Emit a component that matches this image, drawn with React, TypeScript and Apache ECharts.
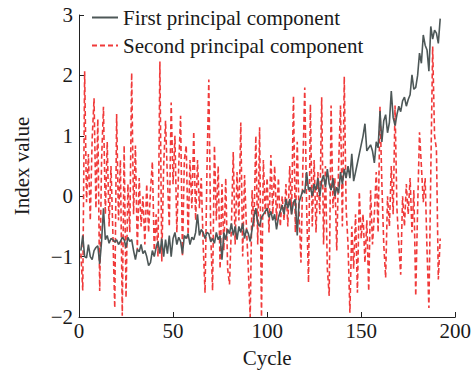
import React, { useEffect, useRef } from "react";
import * as echarts from "echarts";

const firstPC: number[] = [
  -0.9, -0.65, -1.0, -1.02, -0.8, -1.0, -1.05, -0.9, -0.85, -0.82,
  -1.12, -0.75, -0.2, -0.72, -0.65, -0.78, -0.7, -0.72, -0.76, -0.72,
  -0.8, -0.75, -0.68, -0.72, -0.85, -0.68, -0.75, -0.72, -0.9, -1.05,
  -0.88, -0.92, -0.8, -0.95, -0.9, -1.0, -1.15, -1.1, -0.9, -1.0,
  -0.85, -0.75, -0.95, -0.7, -1.0, -0.72, -0.95, -0.65, -1.0, -0.7,
  -0.6, -0.8, -0.68, -0.75, -0.95, -0.65, -0.7, -0.62, -0.8, -0.68,
  -0.72, -0.6, -0.3, -0.65, -0.55, -0.6, -0.7, -0.6, -0.62, -0.75,
  -0.7, -0.78, -0.6, -0.72, -0.65, -1.05, -0.6, -0.72, -0.55, -0.62,
  -0.45, -0.65, -0.5, -0.72, -0.5, -0.6, -0.45, -0.7, -0.55, -0.62,
  -0.75, -0.55, -0.35, -0.2, -0.45, -0.5, -0.35, -0.3, -0.25, -0.2,
  -0.35, -0.25, -0.4, -0.3, -0.55, -0.35, -0.25, -0.15, -0.3, -0.05,
  -0.2, -0.05, -0.3, -0.1, -0.05, -0.65, -0.1, 0.0, 0.1, 0.05,
  0.4, 0.1, 0.15, 0.0, 0.2, 0.1, 0.3, 0.0, 0.25, 0.35,
  0.15, 0.45, 0.2, 0.1, 0.3, 0.0, 0.15, 0.05, 0.4, 0.2,
  0.45, 0.3, 0.5, 0.3, 0.7, 0.25, 0.4, 0.55, 0.7, 0.85,
  1.0, 1.2, 0.75, 0.8, 0.85, 0.75, 0.55, 0.9, 0.8, 1.41,
  0.9, 1.25, 1.35, 1.05, 1.22, 1.74, 1.3, 1.17, 1.35, 1.49,
  1.4, 1.58, 1.64, 1.49, 1.6, 1.68, 2.01, 1.77, 1.8, 2.0,
  2.37, 2.2, 2.67, 2.5, 2.42, 2.07, 2.81, 2.6, 2.75, 2.7,
  2.53, 2.94,
];

const secondPC: number[] = [
  -0.95, -1.56, 2.07, -0.1, 0.7, -0.4, 0.95, 1.62, -0.2, 1.28,
  -1.57, 0.6, 1.48, -0.3, 0.9, -0.5, 0.5, -0.6, -1.85, 1.36,
  -0.4, 0.6, -1.98, 0.84, -1.68, 0.2, -0.6, 2.04, -0.3, 0.84,
  -0.9, 0.3, -0.5, 0.0, -0.8, 0.2, -0.6, 0.1, 0.57, -0.9,
  -0.3, -1.0, 2.23, -1.08, 0.5, 1.25, 0.3, -0.5, 1.55, 0.2,
  1.0, -0.6, 0.5, 1.33, -1.0, 0.6, 0.84, -0.7, 0.6, -0.2,
  1.07, -0.4, 0.6, -0.2, 0.3, -0.8, -1.6, 0.4, 1.93, -0.6,
  -1.56, 0.84, -0.4, 0.5, -1.2, 0.2, -0.9, 0.3, -1.2, -1.46,
  -0.5, 0.73, -0.8, 0.4, -0.4, 1.22, -1.0, 0.35, -0.5, -1.2,
  -2.0, 0.1, -0.5, 1.0, -0.8, 1.14, -2.0, 0.6, -0.3, 0.3,
  -0.6, 0.68, -0.3, 0.5, -0.4, 0.3, -0.5, 0.0, -0.4, 0.2,
  -0.5, 0.5, -0.3, 1.66, -0.6, 0.9, -0.3, -1.1, 0.5, 1.8,
  -0.2, -1.43, 1.52, -0.5, 0.6, -0.6, 0.4, -0.3, 1.64, -0.8,
  0.5, -1.2, -1.65, 1.5, -0.2, 0.3, -0.9, 0.5, 1.5, -0.5,
  1.98, -0.2, -0.8, -1.93, -0.5, -1.2, -0.3, -1.6, 0.07, -0.7,
  -0.3, -1.1, -0.4, -1.57, 0.1, -0.8, -0.3, 0.4, -0.6, 1.48,
  0.2, -0.8, -1.35, 0.0, -0.5, 0.5, -0.3, 1.5, -0.2, -0.8,
  -1.3, 0.0, -0.5, 0.2, -0.3, 0.3, -0.6, 0.1, -1.65, -0.2,
  1.06, 0.5, -0.1, 0.3, -0.9, -1.85, 0.4, 2.48, 1.0, 0.78,
  -1.38, -0.7,
];

const seriesNames = ["First principal component", "Second principal component"];
const xTicks = { min: 0, max: 200, interval: 50 };
const yTicks = { min: -2, max: 3, interval: 1 };

const FONT = "Liberation Serif";
const TXT = "#1a1a1a";

export default function App() {
  const ref = useRef<HTMLDivElement>(null);
  useEffect(() => {
    if (!ref.current) return;
    const chart = echarts.init(ref.current, undefined, { renderer: "svg" });
    const toPairs = (arr: number[]) => arr.map((v, i) => [i + 1, v]);
    const fmt = (v: number) => (v < 0 ? "\u2212" + Math.abs(v) : String(v));
    chart.setOption({
      animation: false,
      backgroundColor: "#ffffff",
      textStyle: { fontFamily: FONT },
      grid: { left: 79, right: 17, top: 15, bottom: 54, containLabel: false },
      legend: {
        orient: "vertical",
        left: 91,
        top: 7,
        padding: 0,
        itemWidth: 26,
        itemHeight: 14,
        itemGap: 7,
        itemStyle: { opacity: 0 },
        textStyle: { fontFamily: FONT, fontSize: 21, color: TXT, lineHeight: 21 },
        data: seriesNames,
      },
      xAxis: {
        type: "value",
        min: xTicks.min,
        max: xTicks.max,
        interval: xTicks.interval,
        name: "Cycle",
        nameLocation: "middle",
        nameGap: 30,
        nameTextStyle: { fontFamily: FONT, fontSize: 21, color: TXT },
        axisLine: { show: true, onZero: false, lineStyle: { color: "#222", width: 1 } },
        axisTick: { show: true, inside: true, length: 5, lineStyle: { color: "#222" } },
        axisLabel: { fontFamily: FONT, fontSize: 21, color: TXT, margin: 3, formatter: fmt },
        splitLine: { show: false },
      },
      yAxis: {
        type: "value",
        min: yTicks.min,
        max: yTicks.max,
        interval: yTicks.interval,
        name: "Index value",
        nameLocation: "middle",
        nameGap: 47,
        nameRotate: 90,
        nameTextStyle: { fontFamily: FONT, fontSize: 21, color: TXT },
        axisLine: { show: true, onZero: false, lineStyle: { color: "#222", width: 1 } },
        axisTick: { show: true, inside: true, length: 5, lineStyle: { color: "#222" } },
        axisLabel: { fontFamily: FONT, fontSize: 21, color: TXT, margin: 6, formatter: fmt },
        splitLine: { show: false },
      },
      series: [
        {
          name: seriesNames[0],
          type: "line",
          data: toPairs(firstPC),
          symbol: "none",
          z: 3,
          lineStyle: { color: "#4d5757", width: 1.6 },
          itemStyle: { color: "#4d5757" },
        },
        {
          name: seriesNames[1],
          type: "line",
          data: toPairs(secondPC),
          symbol: "none",
          z: 2,
          lineStyle: { color: "#f03a3a", width: 1.6, type: [5, 3] },
          itemStyle: { color: "#f03a3a" },
        },
      ],
    });
    return () => chart.dispose();
  }, []);
  return (
    <div
      ref={ref}
      style={{ position: "fixed", left: 0, top: 0, width: 474, height: 373, background: "#fff" }}
    />
  );
}
